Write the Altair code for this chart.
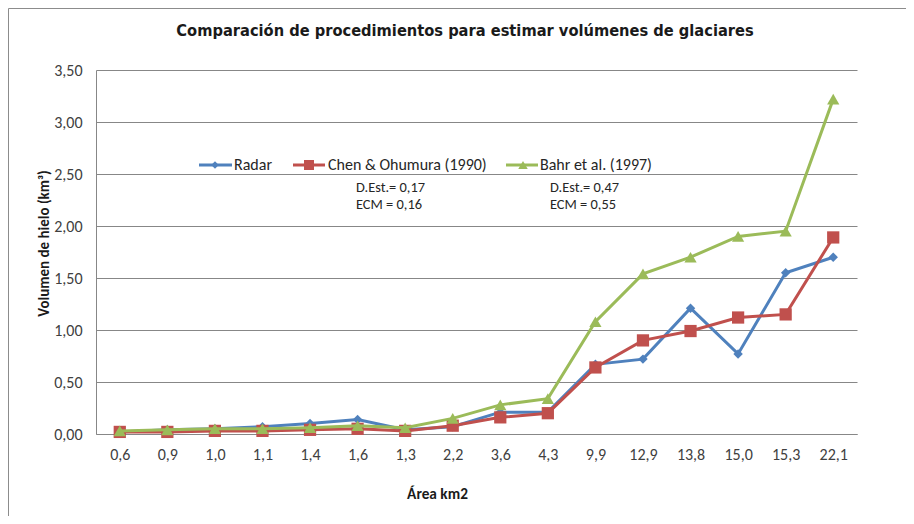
import altair as alt
import pandas as pd

categories = ["0,6", "0,9", "1,0", "1,1", "1,4", "1,6", "1,3", "2,2", "3,6", "4,3",
              "9,9", "12,9", "13,8", "15,0", "15,3", "22,1"]
radar = [0.02, 0.04, 0.05, 0.07, 0.10, 0.14, 0.04, 0.07, 0.21, 0.21,
         0.67, 0.72, 1.21, 0.77, 1.55, 1.70]
chen = [0.02, 0.02, 0.03, 0.03, 0.04, 0.05, 0.03, 0.08, 0.16, 0.20,
        0.64, 0.90, 0.99, 1.12, 1.15, 1.89]
bahr = [0.03, 0.04, 0.05, 0.05, 0.06, 0.08, 0.06, 0.15, 0.28, 0.34,
        1.08, 1.54, 1.70, 1.90, 1.95, 3.22]

series_names = ["Radar", "Chen & Ohumura (1990)", "Bahr et al. (1997)"]
series_values = [radar, chen, bahr]
series_colors = ["#4F81BD", "#C0504D", "#9BBB59"]
series_shapes = ["diamond", "square", "triangle-up"]
series_sizes = [90, 150, 150]

annot_chen = ["D.Est.= 0,17", "ECM = 0,16"]
annot_bahr = ["D.Est.= 0,47", "ECM = 0,55"]
title_text = "Comparación de procedimientos para estimar volúmenes de glaciares"

FONT = "Carlito, Lato, sans-serif"
TITLE_FONT = "'Liberation Sans Narrow', 'Arial Narrow', 'DejaVu Sans Condensed', sans-serif"
GRID = "#878787"

W, H = 761, 364

x_enc = alt.X("cat:N", sort=categories,
              scale=alt.Scale(type="point", padding=0.5),
              axis=alt.Axis(title="Área km2", ticks=False, labelPadding=12,
                            labelAngle=0, domainColor=GRID, grid=False,
                            titleX=341, titleY=59, titleAlign="center",
                            titleBaseline="middle", titleFontSize=15.3))
y_enc = alt.Y("val:Q", scale=alt.Scale(domain=[0, 3.5], nice=False),
              axis=alt.Axis(title="Volumen  de hielo (km³)", values=[0, 0.5, 1, 1.5, 2, 2.5, 3, 3.5],
                            labelExpr="replace(format(datum.value, '.2f'), '.', ',')",
                            ticks=False, labelPadding=14, domainColor=GRID,
                            grid=True, gridColor=GRID, gridWidth=1,
                            titleX=-53, titleY=173, titleAlign="center",
                            titleBaseline="middle", titleAngle=-90, titleFontSize=15))

layers = []

# outer chart border
border = alt.Chart(pd.DataFrame({"a": [0]})).mark_rect(
    fill=None, stroke="#8C8C8C", strokeWidth=1
).encode(x=alt.value(-87.5), x2=alt.value(1000), y=alt.value(-61.5), y2=alt.value(1000))
layers.append(border)

# chart title (as a text mark so it is placed exactly)
layers.append(alt.Chart(pd.DataFrame({"t": [title_text]})).mark_text(
    align="center", baseline="middle", font=TITLE_FONT, fontSize=16.3, fontWeight="bold",
    color="#1a1a1a").encode(x=alt.value(369), y=alt.value(-39), text="t:N"))

for name, vals, col, shp, sz in zip(series_names, series_values, series_colors,
                                    series_shapes, series_sizes):
    df = pd.DataFrame({"cat": categories, "val": vals, "serie": name})
    base = alt.Chart(df)
    line = base.mark_line(color=col, strokeWidth=3).encode(x=x_enc, y=y_enc)
    pts = base.mark_point(color=col, fill=col, filled=True, opacity=1,
                          shape=shp, size=sz).encode(x=x_enc, y=y_enc)
    layers += [line, pts]

# manual legend (inside the plot, as in the original)
one = pd.DataFrame({"a": [0]})
leg_pos = [(103, 136, 119, 138), (197, 229, 213, 232), (410, 442, 427, 444)]
leg_y = 95
leg_sizes = [55, 100, 90]
for (x1, x2, xm, xt), name, col, shp, sz in zip(leg_pos, series_names, series_colors,
                                                series_shapes, leg_sizes):
    layers.append(alt.Chart(one).mark_rule(color=col, strokeWidth=3).encode(
        x=alt.value(x1), x2=alt.value(x2), y=alt.value(leg_y)))
    layers.append(alt.Chart(one).mark_point(color=col, fill=col, filled=True, opacity=1,
                                            shape=shp, size=sz).encode(
        x=alt.value(xm), y=alt.value(leg_y)))
    layers.append(alt.Chart(pd.DataFrame({"t": [name]})).mark_text(
        align="left", baseline="middle", font=FONT, fontSize=16, color="#262626").encode(
        x=alt.value(xt), y=alt.value(leg_y), text="t:N"))

for lines_, xpos in [(annot_chen, 260), (annot_bahr, 454)]:
    for i, t in enumerate(lines_):
        layers.append(alt.Chart(pd.DataFrame({"t": [t]})).mark_text(
            align="left", baseline="middle", font=FONT, fontSize=14.4, color="#262626").encode(
            x=alt.value(xpos), y=alt.value(118 + 17 * i), text="t:N"))

chart = alt.layer(*layers).properties(
    width=W, height=H,
    background="white",
    autosize=alt.AutoSizeParams(type="none"),
    padding={"left": 88, "top": 62, "right": 49, "bottom": 82},
).configure_view(stroke=None).configure_axis(
    labelFont=FONT, labelFontSize=16, labelColor="#404040",
    titleFont=FONT, titleFontSize=16, titleFontWeight="bold", titleColor="#1a1a1a",
)

chart.save("out.html", embed_options={"renderer": "svg", "actions": False})
